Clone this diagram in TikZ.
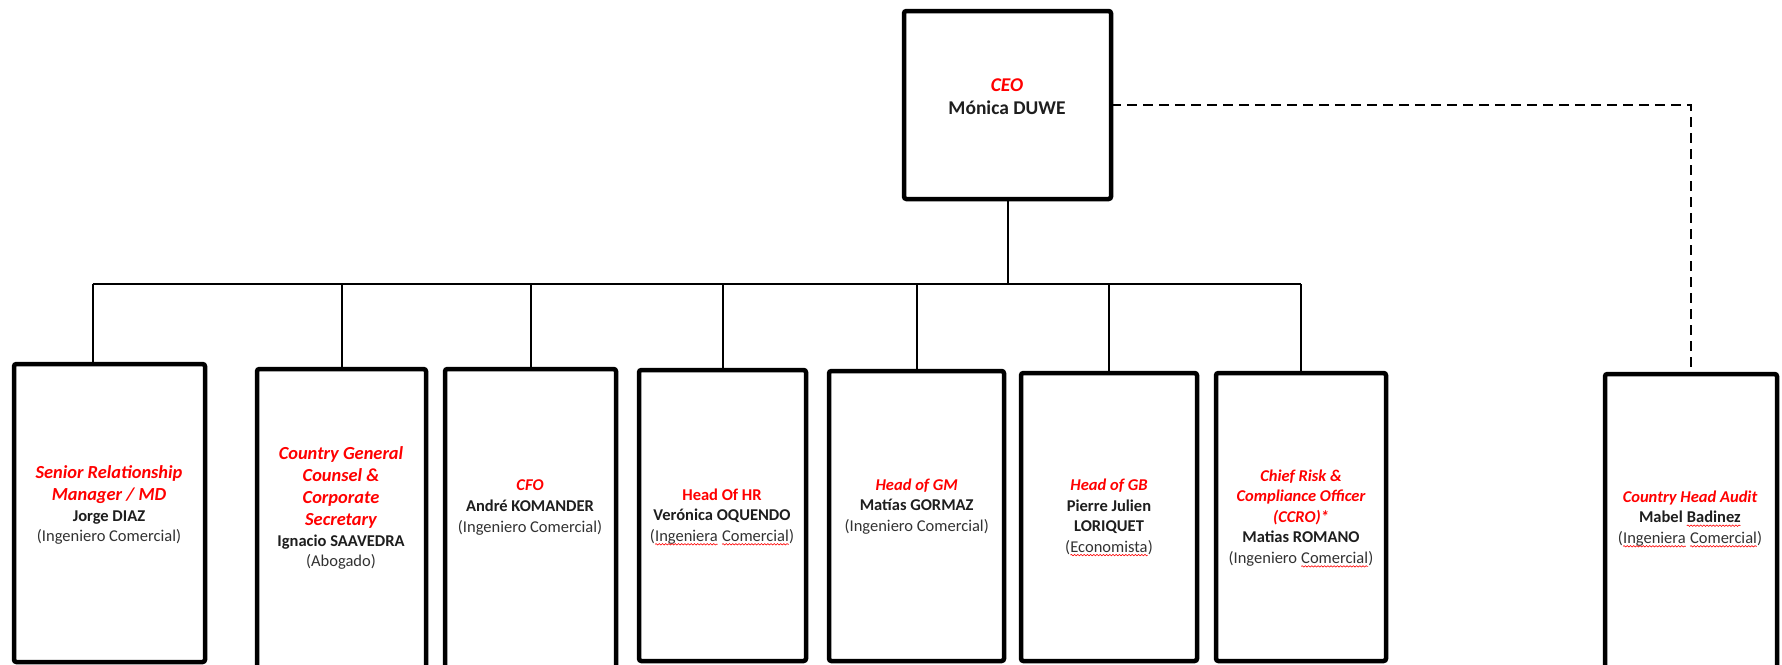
\documentclass[tikz,border=0pt]{standalone}
\usepackage{fontspec}
\setmainfont{Carlito}
\usetikzlibrary{fit,decorations.pathmorphing}
\definecolor{tred}{RGB}{255,0,0}
\definecolor{tname}{RGB}{30,30,30}
\definecolor{tsub}{RGB}{50,50,50}
\newcommand{\ttl}[1]{{\color{tred}\bfseries\itshape #1}}
\newcommand{\ttlbig}[1]{{\fontsize{9.2}{11}\selectfont\color{tred}\bfseries\itshape #1}}
\newcommand{\nme}[1]{{\color{tname}\bfseries #1}}
\newcommand{\sbt}[1]{{\color{tsub}#1}}
\newcommand{\squig}[1]{\tikz[baseline=(w.base),x=1pt,y=1pt]{\node[inner sep=0pt,outer sep=0pt,anchor=base](w) at (0,0){#1};\draw[tred,line width=0.3pt,decorate,decoration={snake,amplitude=0.35pt,segment length=1.6pt}]([yshift=-1.4pt]w.base west)--([yshift=-1.4pt]w.base east);}}
\tikzset{
  boxst/.style={draw=black, line width=2.25pt, inner sep=0pt, outer sep=0pt, rounded corners=1.2pt},
  conn/.style={draw=black, line width=1pt},
  dashconn/.style={draw=black, line width=1.1pt, dash pattern=on 5pt off 3pt},
  txt/.style={align=center, inner sep=0pt, font=\fontsize{8.25}{10.3}\selectfont},
}
\begin{document}
\begin{tikzpicture}[x=0.5pt,y=-0.5pt]
\clip (0,0) rectangle (1782,664);
\fill[white] (0,0) rectangle (1782,664);
% boxes
\node[boxst, fit={(904,11)(1111,199)}] (ceo) {};
\node[boxst, fit={(14,364)(205,662)}] (b1) {};
\node[boxst, fit={(257,369)(426,700)}] (b2) {};
\node[boxst, fit={(445,369)(616,700)}] (b3) {};
\node[boxst, fit={(639,370)(806,661)}] (b4) {};
\node[boxst, fit={(829,371)(1004,661)}] (b5) {};
\node[boxst, fit={(1021,373)(1197,661)}] (b6) {};
\node[boxst, fit={(1216,373)(1386,661)}] (b7) {};
\node[boxst, fit={(1605,374)(1777,700)}] (b8) {};
% connectors
\coordinate (j) at (1007.5,284);
\coordinate (c1) at (92.7,364);
\draw[conn] (ceo.south) -- (j);
\draw[conn] (c1 |- j) -- (b7.north |- j);
\draw[conn] (c1) -- (c1 |- j);
\draw[conn] (b2.north) -- (b2.north |- j);
\draw[conn] (b3.north) -- (b3.north |- j);
\draw[conn] (b4.north) -- (b4.north |- j);
\draw[conn] (b5.north) -- (b5.north |- j);
\draw[conn] (b6.north) -- (b6.north |- j);
\draw[conn] (b7.north) -- (b7.north |- j);
\draw[dashconn] (ceo.east) -| (b8.north);
% texts
\node[txt, font=\fontsize{9.75}{11.5}\selectfont] (tceo) at (1007,96.5) {\ttl{CEO}\\\nme{Mónica DUWE}};
\node[txt] (t1) at (109,505) {\ttlbig{Senior Relationship}\\[0.7pt]\ttlbig{Manager / MD}\\\nme{Jorge DIAZ}\\\sbt{(Ingeniero Comercial)}};
\node[txt] (t2) at (341,508) {\ttlbig{Country General}\\[0.7pt]\ttlbig{Counsel \&}\\[0.7pt]\ttlbig{Corporate}\\[0.7pt]\ttlbig{Secretary}\\\nme{Ignacio SAAVEDRA}\\\sbt{(Abogado)}};
\node[txt] (t3) at (530,507.5) {\ttl{CFO}\\\nme{André KOMANDER}\\\sbt{(Ingeniero Comercial)}};
\node[txt] (t4) at (722,517) {{\color{tred}\bfseries Head Of HR}\\\nme{Verónica OQUENDO}\\\sbt{(\squig{Ingeniera} \squig{Comercial})}};
\node[txt] (t5) at (916.7,506.5) {\ttl{Head of GM}\\\nme{Matías GORMAZ}\\\sbt{(Ingeniero Comercial)}};
\node[txt] (t6) at (1109,517.5) {\ttl{Head of GB}\\\nme{Pierre Julien}\\\nme{LORIQUET}\\\sbt{(\squig{Economista})}};
\node[txt] (t7) at (1301,518.5) {\ttl{Chief Risk \&}\\\ttl{Compliance Officer}\\\ttl{(CCRO)*}\\\nme{Matias ROMANO}\\\sbt{(Ingeniero \squig{Comercial})}};
\node[txt] (t8) at (1690,519) {\ttl{Country Head Audit}\\\nme{Mabel \squig{Badinez}}\\\sbt{(\squig{Ingeniera} \squig{Comercial})}};
\end{tikzpicture}
\end{document}
